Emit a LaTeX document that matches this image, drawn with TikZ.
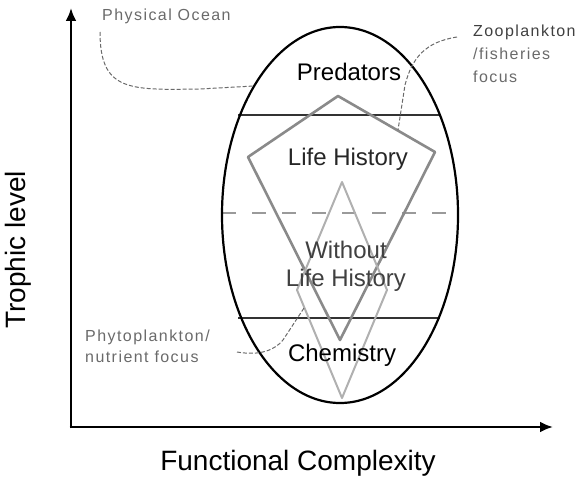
\documentclass[tikz,border=0pt]{standalone}
\usepackage{fontspec}
\setmainfont{Liberation Sans}
\newfontfamily\grayfont[LetterSpace=9]{Liberation Sans}
\usetikzlibrary{arrows.meta,shapes.geometric}
\definecolor{kitegray}{HTML}{8A8A8A}
\definecolor{thingray}{HTML}{B0B0B0}
\definecolor{labgray}{HTML}{6A6A6A}
\definecolor{darklab}{HTML}{404040}
\definecolor{dashgray}{HTML}{9A9A9A}
\tikzset{
  axisline/.style={line width=2.8pt, -{Latex[length=13pt,width=11pt]}},
  bigtext/.style={font=\fontsize{24}{28}\selectfont, inner sep=0pt},
  axtext/.style={font=\fontsize{28}{32}\selectfont, inner sep=0pt},
  smalltext/.style={font=\grayfont\fontsize{16}{23}\selectfont, inner sep=0pt, text=labgray},
  graycurve/.style={labgray, line width=1pt, dash pattern=on 4pt off 2pt},
  band/.style={line width=1.6pt, draw=black!80},
  midband/.style={line width=2.6pt, draw=dashgray, dash pattern=on 14pt off 16pt},
  kite/.style={line width=2.6pt, draw=kitegray, line join=round},
  thin/.style={line width=2pt, draw=thingray, line join=round}
}
\begin{document}
\begin{tikzpicture}[x=1pt,y=-1pt]
\useasboundingbox (0,0) rectangle (585,481);
% axes
\coordinate (origin) at (71,427);
\coordinate (ytip) at (71,8);
\coordinate (xtip) at (553,427);
\draw[axisline] ([yshift=-1.4pt]origin) -- (ytip);
\draw[axisline] ([xshift=-1.4pt]origin) -- (xtip);
\node[axtext] (xlab) at (298,463) {Functional Complexity};
\node[axtext, rotate=90] (ylab) at (18,250) {Trophic level};
% bands
\coordinate (b1l) at (238,115); \coordinate (b1r) at (441,115);
\coordinate (b2l) at (222,213); \coordinate (b2r) at (460,213);
\coordinate (b3l) at (238,318); \coordinate (b3r) at (440,318);
\draw[band] (b1l) -- (b1r);
\draw[midband] (b2l) -- (b2r);
\draw[band] (b3l) -- (b3r);
% kite (life history)
\coordinate (kt) at (338,96); \coordinate (kr) at (435,152);
\coordinate (kb) at (340,340); \coordinate (kl) at (248,157);
\draw[kite] (kt) -- (kr) -- (kb) -- (kl) -- cycle;
% narrow diamond (without life history)
\coordinate (dt) at (342,182); \coordinate (dr) at (387,290);
\coordinate (db) at (342,398); \coordinate (dl) at (297,290);
\draw[thin] (dt) -- (dr) -- (db) -- (dl) -- cycle;
% ellipse
\node[ellipse, draw=black, line width=2.2pt, minimum width=236pt, minimum height=376pt, inner sep=0pt] (oval) at (340,215) {};
% texts
\node[bigtext] (pred) at (349,72) {Predators};
\node[bigtext, text=black!85] (lh) at (348,159) {Life History};
\node[bigtext, text=darklab, align=center, font=\fontsize{24}{28}\selectfont] (wlh) at (346,266) {Without\\Life History};
\node[bigtext] (chem) at (342,355) {Chemistry};
% gray labels
\node[smalltext, anchor=west] (po) at (102,16) {Physical Ocean};
\node[smalltext, anchor=north west, align=left] (zoo) at (473,25) {\textcolor{darklab}{Zooplankton}\\/fisheries\\focus};
\node[smalltext, anchor=north west, align=left, font=\grayfont\fontsize{16}{21}\selectfont] (phy) at (85,330) {Phytoplankton/\\nutrient focus};
% connectors
\coordinate (poS) at (100,32);
\coordinate (poE) at (254,86);
\draw[graycurve] (poS) .. controls (100,92) and (130,90) .. (200,89) -- (poE);
\coordinate (zoS) at (457,37);
\coordinate (zoE) at (398,130);
\draw[graycurve] (zoS) .. controls (425,42) and (412,58) .. (405,85) -- (zoE);
\coordinate (phS) at (237,352);
\coordinate (phE) at (304,308);
\draw[graycurve] (phS) .. controls (260,356) and (275,350) .. (283,340) -- (phE);
\end{tikzpicture}
\end{document}
